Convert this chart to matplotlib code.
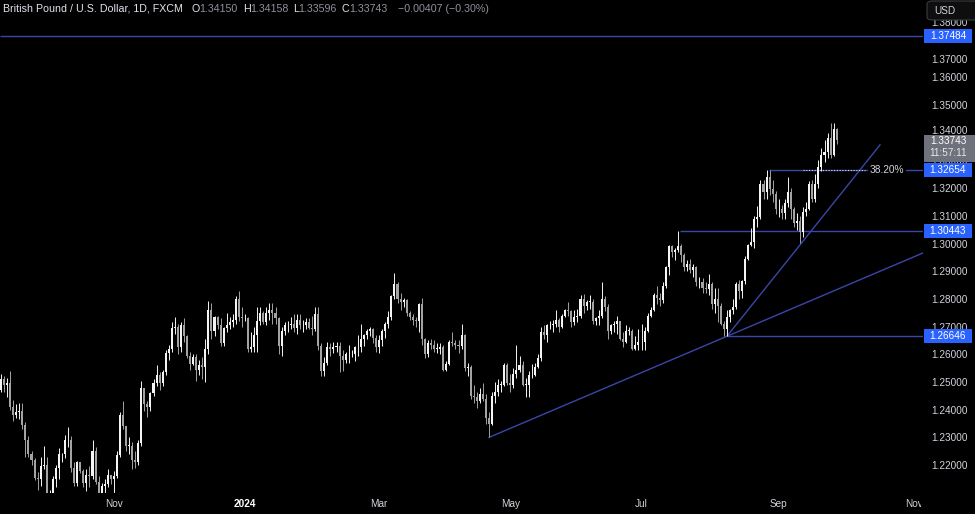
import numpy as np
import matplotlib
matplotlib.use("Agg")
import matplotlib.pyplot as plt
import matplotlib.transforms as mtransforms
from matplotlib.patches import Rectangle, FancyBboxPatch

plt.rcParams['font.family'] = ['Liberation Sans', 'DejaVu Sans']

# GBP/USD daily bars (FXCM), one per weekday, 11 Sep 2023 .. 27 Sep 2024
first_open = 1.2470
closes = [
    # Sep 2023
    1.2510, 1.2490, 1.2495, 1.2410, 1.2380, 1.2390, 1.2395, 1.2345, 1.2290, 1.2240, 1.2220, 1.2155, 1.2150, 1.2195, 1.2200,
    # Oct
    1.2070, 1.2085, 1.2150, 1.2190, 1.2240, 1.2240, 1.2290, 1.2290, 1.2190, 1.2135, 1.2210, 1.2180, 1.2135, 1.2165, 1.2160,
    1.2250, 1.2140, 1.2100, 1.2125, 1.2130, 1.2165, 1.2150,
    # Nov
    1.2160, 1.2235, 1.2380, 1.2340, 1.2270, 1.2270, 1.2220, 1.2210, 1.2280, 1.2480, 1.2420, 1.2410, 1.2460, 1.2495, 1.2525,
    1.2495, 1.2535, 1.2605, 1.2620, 1.2695, 1.2700, 1.2625,
    # Dec
    1.2705, 1.2665, 1.2595, 1.2565, 1.2590, 1.2545, 1.2560, 1.2555, 1.2620, 1.2760, 1.2685, 1.2735, 1.2705, 1.2640, 1.2695,
    1.2705, 1.2715, 1.2725, 1.2800, 1.2735, 1.2730,
    # Jan 2024
    1.2730, 1.2620, 1.2625, 1.2670, 1.2720, 1.2750, 1.2715, 1.2750, 1.2760, 1.2750, 1.2730, 1.2630, 1.2685, 1.2705, 1.2705,
    1.2710, 1.2695, 1.2725, 1.2705, 1.2705, 1.2715, 1.2695, 1.2690,
    # Feb
    1.2745, 1.2630, 1.2540, 1.2570, 1.2625, 1.2620, 1.2625, 1.2630, 1.2595, 1.2580, 1.2600, 1.2600, 1.2600, 1.2625, 1.2625,
    1.2655, 1.2670, 1.2685, 1.2690, 1.2660, 1.2625,
    # Mar
    1.2650, 1.2685, 1.2710, 1.2735, 1.2810, 1.2855, 1.2800, 1.2790, 1.2795, 1.2750, 1.2735, 1.2725, 1.2720, 1.2780, 1.2655,
    1.2600, 1.2640, 1.2635, 1.2620, 1.2620, 1.2625,
    # Apr
    1.2545, 1.2565, 1.2645, 1.2640, 1.2635, 1.2630, 1.2670, 1.2550, 1.2555, 1.2450, 1.2445, 1.2430, 1.2455, 1.2440, 1.2370,
    1.2350, 1.2450, 1.2465, 1.2490, 1.2490, 1.2560, 1.2495,
    # May
    1.2490, 1.2530, 1.2545, 1.2560, 1.2490, 1.2490, 1.2525, 1.2525, 1.2555, 1.2585, 1.2680, 1.2670, 1.2705, 1.2705, 1.2710,
    1.2725, 1.2700, 1.2740, 1.2760, 1.2755, 1.2715, 1.2735, 1.2740,
    # Jun
    1.2800, 1.2775, 1.2790, 1.2790, 1.2720, 1.2730, 1.2740, 1.2800, 1.2770, 1.2685, 1.2705, 1.2710, 1.2720, 1.2655, 1.2645,
    1.2685, 1.2685, 1.2620, 1.2635, 1.2645,
    # Jul
    1.2645, 1.2685, 1.2740, 1.2760, 1.2815, 1.2805, 1.2795, 1.2845, 1.2915, 1.2990, 1.2970, 1.2975, 1.2990, 1.2960, 1.2915,
    1.2925, 1.2905, 1.2915, 1.2860, 1.2860, 1.2840, 1.2835, 1.2855,
    # Aug
    1.2780, 1.2800, 1.2775, 1.2710, 1.2690, 1.2735, 1.2760, 1.2770, 1.2855, 1.2830, 1.2865, 1.2945, 1.2995, 1.3005, 1.3090,
    1.3095, 1.3215, 1.3185, 1.3240, 1.3195, 1.3180, 1.3125,
    # Sep
    1.3125, 1.3110, 1.3145, 1.3185, 1.3125, 1.3075, 1.3080, 1.3040, 1.3115, 1.3125, 1.3215, 1.3160, 1.3215, 1.3275, 1.3320,
    1.3330, 1.3380, 1.3320, 1.3415, 1.33743,
]
highs = [
    1.2530, 1.2520, 1.2515, 1.2540, 1.2435, 1.2420, 1.2425, 1.2425, 1.2355, 1.2305, 1.2250, 1.2225, 1.2175, 1.2230, 1.2270,
    1.2230, 1.2110, 1.2160, 1.2200, 1.2260, 1.2245, 1.2310, 1.2337, 1.2305, 1.2210, 1.2215, 1.2210, 1.2185, 1.2185, 1.2195,
    1.2290, 1.2265, 1.2160, 1.2135, 1.2150, 1.2185, 1.2165,
    1.2180, 1.2250, 1.2390, 1.2430, 1.2340, 1.2300, 1.2285, 1.2250, 1.2290, 1.2505, 1.2480, 1.2430, 1.2465, 1.2510, 1.2560,
    1.2535, 1.2545, 1.2615, 1.2635, 1.2715, 1.2733, 1.2710,
    1.2716, 1.2730, 1.2670, 1.2610, 1.2600, 1.2600, 1.2580, 1.2590, 1.2655, 1.2793, 1.2785, 1.2740, 1.2740, 1.2730, 1.2700,
    1.2750, 1.2735, 1.2745, 1.2810, 1.2827, 1.2770,
    1.2745, 1.2735, 1.2680, 1.2700, 1.2770, 1.2770, 1.2755, 1.2770, 1.2785, 1.2785, 1.2770, 1.2735, 1.2700, 1.2715, 1.2720,
    1.2735, 1.2745, 1.2745, 1.2745, 1.2725, 1.2730, 1.2730, 1.2740,
    1.2770, 1.2770, 1.2640, 1.2590, 1.2645, 1.2640, 1.2645, 1.2645, 1.2645, 1.2615, 1.2610, 1.2635, 1.2615, 1.2630, 1.2670,
    1.2710, 1.2675, 1.2690, 1.2700, 1.2695, 1.2670,
    1.2670, 1.2690, 1.2715, 1.2755, 1.2815, 1.2893, 1.2860, 1.2820, 1.2805, 1.2800, 1.2755, 1.2745, 1.2735, 1.2785, 1.2805,
    1.2660, 1.2650, 1.2655, 1.2650, 1.2640, 1.2640,
    1.2635, 1.2575, 1.2650, 1.2680, 1.2650, 1.2650, 1.2710, 1.2675, 1.2570, 1.2560, 1.2490, 1.2465, 1.2480, 1.2495, 1.2455,
    1.2390, 1.2465, 1.2500, 1.2510, 1.2505, 1.2570, 1.2570,
    1.2530, 1.2550, 1.2635, 1.2595, 1.2575, 1.2515, 1.2540, 1.2565, 1.2570, 1.2600, 1.2700, 1.2705, 1.2710, 1.2720, 1.2725,
    1.2760, 1.2730, 1.2745, 1.2765, 1.2790, 1.2760, 1.2760, 1.2765,
    1.2815, 1.2818, 1.2795, 1.2815, 1.2800, 1.2735, 1.2760, 1.2860, 1.2810, 1.2780, 1.2710, 1.2720, 1.2740, 1.2720, 1.2680,
    1.2705, 1.2700, 1.2690, 1.2665, 1.2690,
    1.2710, 1.2700, 1.2750, 1.2770, 1.2820, 1.2845, 1.2820, 1.2860, 1.2920, 1.2995, 1.2995, 1.2985, 1.3044, 1.3000, 1.2965,
    1.2940, 1.2945, 1.2925, 1.2920, 1.2880, 1.2875, 1.2860, 1.2890,
    1.2860, 1.2840, 1.2840, 1.2785, 1.2720, 1.2760, 1.2765, 1.2800, 1.2860, 1.2870, 1.2870, 1.2955, 1.3000, 1.3055, 1.3100,
    1.3135, 1.3230, 1.3230, 1.3266, 1.3265, 1.3230, 1.3190,
    1.3160, 1.3140, 1.3160, 1.3240, 1.3200, 1.3130, 1.3110, 1.3100, 1.3130, 1.3150, 1.3225, 1.3230, 1.3250, 1.3300, 1.3345,
    1.3375, 1.3400, 1.3435, 1.3434, 1.34158,
]
lows = [
    1.2465, 1.2465, 1.2445, 1.2400, 1.2360, 1.2370, 1.2365, 1.2330, 1.2230, 1.2230, 1.2200, 1.2145, 1.2110, 1.2125, 1.2185,
    1.2060, 1.2050, 1.2037, 1.2120, 1.2150, 1.2210, 1.2225, 1.2265, 1.2175, 1.2125, 1.2125, 1.2170, 1.2120, 1.2105, 1.2120,
    1.2150, 1.2130, 1.2080, 1.2075, 1.2095, 1.2120, 1.2130,
    1.2095, 1.2155, 1.2230, 1.2330, 1.2250, 1.2240, 1.2185, 1.2190, 1.2200, 1.2270, 1.2395, 1.2375, 1.2395, 1.2450, 1.2485,
    1.2470, 1.2485, 1.2525, 1.2580, 1.2610, 1.2675, 1.2600,
    1.2610, 1.2645, 1.2585, 1.2545, 1.2560, 1.2505, 1.2525, 1.2510, 1.2500, 1.2600, 1.2655, 1.2665, 1.2690, 1.2630, 1.2630,
    1.2680, 1.2690, 1.2700, 1.2710, 1.2720, 1.2700,
    1.2720, 1.2610, 1.2610, 1.2610, 1.2610, 1.2705, 1.2710, 1.2705, 1.2725, 1.2710, 1.2710, 1.2600, 1.2595, 1.2670, 1.2680,
    1.2690, 1.2680, 1.2675, 1.2690, 1.2680, 1.2690, 1.2690, 1.2670,
    1.2685, 1.2615, 1.2520, 1.2520, 1.2560, 1.2595, 1.2605, 1.2610, 1.2535, 1.2540, 1.2570, 1.2570, 1.2590, 1.2575, 1.2595,
    1.2610, 1.2630, 1.2655, 1.2665, 1.2640, 1.2610,
    1.2605, 1.2630, 1.2660, 1.2695, 1.2725, 1.2800, 1.2785, 1.2760, 1.2770, 1.2740, 1.2725, 1.2705, 1.2700, 1.2680, 1.2635,
    1.2585, 1.2590, 1.2620, 1.2610, 1.2605, 1.2600,
    1.2540, 1.2540, 1.2560, 1.2630, 1.2620, 1.2605, 1.2620, 1.2540, 1.2520, 1.2440, 1.2425, 1.2405, 1.2425, 1.2430, 1.2350,
    1.2300, 1.2345, 1.2425, 1.2450, 1.2465, 1.2485, 1.2490,
    1.2465, 1.2480, 1.2515, 1.2535, 1.2485, 1.2445, 1.2445, 1.2515, 1.2520, 1.2550, 1.2575, 1.2655, 1.2645, 1.2690, 1.2680,
    1.2700, 1.2680, 1.2695, 1.2735, 1.2740, 1.2700, 1.2705, 1.2715,
    1.2730, 1.2750, 1.2760, 1.2765, 1.2710, 1.2705, 1.2705, 1.2730, 1.2755, 1.2655, 1.2675, 1.2680, 1.2675, 1.2650, 1.2625,
    1.2640, 1.2670, 1.2615, 1.2615, 1.2615,
    1.2615, 1.2615, 1.2680, 1.2735, 1.2755, 1.2780, 1.2775, 1.2785, 1.2840, 1.2885, 1.2950, 1.2940, 1.2970, 1.2935, 1.2900,
    1.2900, 1.2895, 1.2880, 1.2845, 1.2840, 1.2820, 1.2820, 1.2815,
    1.2765, 1.2750, 1.2715, 1.2705, 1.2665, 1.2665, 1.2715, 1.2745, 1.2765, 1.2800, 1.2805, 1.2855, 1.2940, 1.2990, 1.2985,
    1.3060, 1.3090, 1.3160, 1.3160, 1.3175, 1.3150, 1.3105,
    1.3095, 1.3090, 1.3090, 1.3130, 1.3090, 1.3060, 1.3050, 1.3001, 1.3025, 1.3100, 1.3120, 1.3150, 1.3150, 1.3200, 1.3260,
    1.3295, 1.3310, 1.3310, 1.3315, 1.33596,
]

# time axis labels (bar index of first trading day of the month)
month_pos = [37, 80, 124, 167, 210, 255, 299.5]
month_names = ['Nov', '2024', 'Mar', 'May', 'Jul', 'Sep', 'Nov']
price_ticks = [1.22, 1.23, 1.24, 1.25, 1.26, 1.27, 1.28, 1.29, 1.30,
               1.31, 1.32, 1.33, 1.34, 1.35, 1.36, 1.37, 1.38]

# drawings: horizontal levels (start bar, price), trendlines (bar, price)
levels = [(-1, 1.37484), (222.6, 1.30443), (238, 1.26646), (251.8, 1.32654)]
trend_long = [(160, 1.2300), (238, 1.2665)]
trend_steep = [(238, 1.2665), (288.2, 1.3356)]
fib_start, fib_end, fib_price = 263, 283.3, 1.32654
tag_prices = [1.37484, 1.32654, 1.30443, 1.26646]
last_price = 1.33743

W, H = 975, 514
fig = plt.figure(figsize=(W / 100, H / 100), dpi=100, facecolor='black')
ax = fig.add_axes([0, 21 / H, 923 / W, 493 / H])
ax.set_facecolor('black')
x0, x1 = -1 / 3.05, 922 / 3.05
y0, y1 = 1.35 - 388 / 2770, 1.35 + 105 / 2770
ax.set_xlim(x0, x1)
ax.set_ylim(y0, y1)
ppx = (y1 - y0) / 493  # price per pixel

c = np.array(closes)
h = np.array(highs)
l = np.array(lows)
o = np.concatenate([[first_open], c[:-1]])
x = np.arange(len(c))
up = c >= o
cols = np.where(up, '#f4f4f4', '#a3a3a3')

line_col = '#3a46a8'
ax.hlines(levels[0][1], x0, x1, color=line_col, lw=1.0, zorder=1)
for start, price in levels[1:]:
    ax.hlines(price, start, x1, color=line_col, lw=1.0, zorder=1)
(ax_, ay_), (bx_, by_) = trend_long
slope = (by_ - ay_) / (bx_ - ax_)
ax.plot([ax_, x1], [ay_, ay_ + slope * (x1 - ax_)], color=line_col, lw=1.0, zorder=1)
ax.plot([p[0] for p in trend_steep], [p[1] for p in trend_steep], color=line_col, lw=1.0, zorder=1)
ax.hlines(fib_price, fib_start, fib_end, color='#d8d8d8', lw=0.8, linestyles=(0, (1, 1.5)), zorder=2)
ax.text(fib_end + 1.6, fib_price, '38.20%', color='#d1d4dc', fontsize=7.3, va='center', ha='left',
        bbox=dict(facecolor='black', edgecolor='none', pad=1.2), zorder=3)

ax.vlines(x, np.minimum(l, np.minimum(o, c)), np.maximum(h, np.maximum(o, c)), colors=cols, lw=0.7, zorder=4)
ax.bar(x, np.maximum(np.abs(c - o), 0.00012), bottom=np.minimum(o, c), width=0.68,
       color=cols, linewidth=0, zorder=5)

for s in ax.spines.values():
    s.set_visible(False)
ax.yaxis.tick_right()
ax.set_yticks(price_ticks)
ax.set_yticklabels(['%.5f' % p for p in price_ticks])
ax.tick_params(axis='y', length=0, pad=5.8, labelsize=7.2, labelcolor='#d1d4dc')
ax.set_xticks(month_pos)
ax.set_xticklabels(month_names)
ax.tick_params(axis='x', length=0, pad=4.3, labelsize=7.2, labelcolor='#d1d4dc')
for lab in ax.get_xticklabels():
    if lab.get_text() == '2024':
        lab.set_fontweight('bold')
        lab.set_color('#ffffff')
for lab in ax.get_yticklabels():
    if lab.get_text() == '1.37000':
        lab.set_transform(lab.get_transform() + mtransforms.ScaledTranslation(0, -6.5 / 72, fig.dpi_scale_trans))
    if lab.get_text() == '1.34000':
        lab.set_transform(lab.get_transform() + mtransforms.ScaledTranslation(0, 2.2 / 72, fig.dpi_scale_trans))

# hide the clipped part of the last month label under the price scale
fig.add_artist(Rectangle((921 / W, 0), 54 / W, 21 / H, transform=fig.transFigure,
                         facecolor='black', edgecolor='none', zorder=5))

tr = mtransforms.blended_transform_factory(fig.transFigure, ax.transData)
for p in tag_prices:
    fig.add_artist(Rectangle((924 / W, p - 7 * ppx), 48 / W, 14 * ppx, transform=tr,
                             facecolor='#2962ff', edgecolor='none', zorder=6))
    fig.text(948 / W, p, '%.5f' % p, transform=tr, ha='center', va='center',
             color='white', fontsize=7.2, zorder=7)
fig.add_artist(Rectangle((924 / W, last_price - 22 * ppx), 51 / W, 27 * ppx, transform=tr,
                         facecolor='#6f727c', edgecolor='none', zorder=6))
fig.text(948 / W, last_price - 1.5 * ppx, '%.5f' % last_price, transform=tr, ha='center', va='center',
         color='white', fontsize=7.2, zorder=7)
fig.text(948 / W, last_price - 13.5 * ppx, '11:57:11', transform=tr, ha='center', va='center',
         color='#e8e8e8', fontsize=7.2, zorder=7)

# currency button at the top of the price scale
fig.add_artist(FancyBboxPatch((927 / W, 1 - 20 / H), 52 / W, 19 / H, boxstyle='round,pad=0,rounding_size=0.006',
                              transform=fig.transFigure, facecolor='#0e0e0e', edgecolor='#3a3d45',
                              lw=0.8, zorder=6))
fig.text(945 / W, 1 - 10.5 / H, 'USD', color='#d1d4dc', fontsize=7.2, ha='center', va='center', zorder=7)

# header line
hy = 1 - 8.5 / H
head_col, val_col = '#e0e3eb', '#8f929b'
fig.text(3 / W, hy, 'British Pound / U.S. Dollar, 1D, FXCM', color=head_col, fontsize=7.7, va='center')
for lx, letter, vx, val in [(192, 'O', 199, '1.34150'), (243, 'H', 250.5, '1.34158'),
                            (293, 'L', 298.5, '1.33596'), (342, 'C', 349, '1.33743')]:
    fig.text(lx / W, hy, letter, color=head_col, fontsize=7.7, va='center')
    fig.text(vx / W, hy, val, color=val_col, fontsize=7.7, va='center')
fig.text(398 / W, hy, '\u22120.00407 (\u22120.30%)', color=val_col, fontsize=7.7, va='center')

fig.savefig('out.png', dpi=100, facecolor='black')
